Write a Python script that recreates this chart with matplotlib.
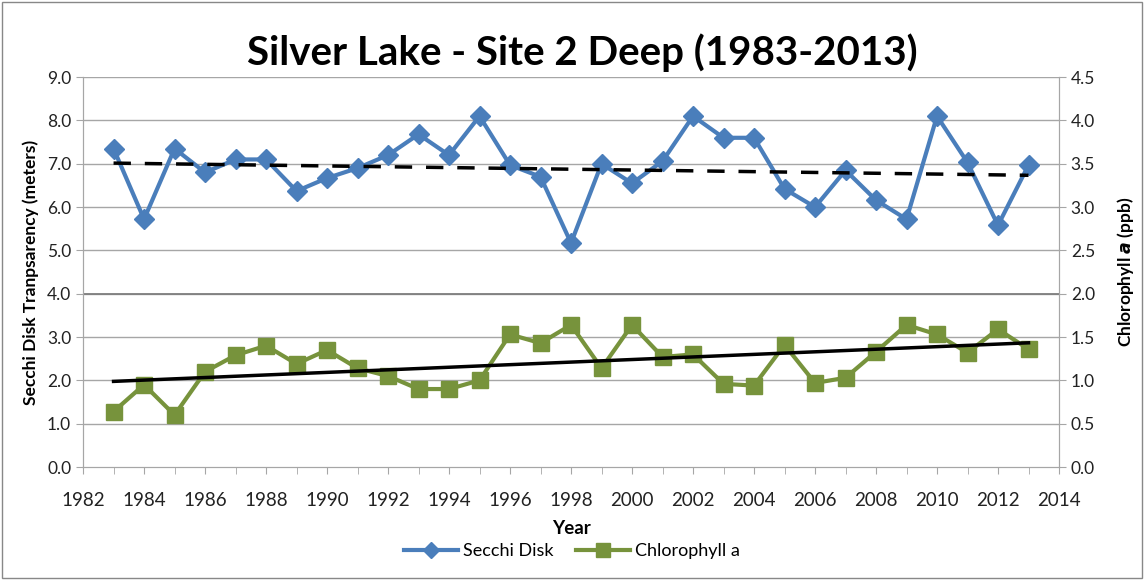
import numpy as np
import matplotlib
matplotlib.use('Agg')
import matplotlib.pyplot as plt
from matplotlib.patches import Rectangle

plt.rcParams['font.family'] = ['Lato', 'DejaVu Sans']

years = list(range(1983, 2014))
secchi = [7.35, 5.72, 7.35, 6.80, 7.10, 7.10, 6.37, 6.67, 6.90, 7.20,
          7.68, 7.20, 8.10, 6.97, 6.70, 5.17, 7.00, 6.55, 7.06, 8.10,
          7.60, 7.60, 6.42, 6.00, 6.85, 6.16, 5.72, 8.10, 7.03, 5.58, 6.97]
chla = [0.64, 0.95, 0.60, 1.10, 1.29, 1.40, 1.19, 1.35, 1.14, 1.05,
        0.90, 0.90, 1.00, 1.53, 1.43, 1.64, 1.14, 1.64, 1.27, 1.30,
        0.96, 0.94, 1.41, 0.97, 1.03, 1.33, 1.64, 1.53, 1.32, 1.59, 1.36]

blue = '#4A7EBB'
green = '#77933C'

fig = plt.figure(figsize=(11.44, 5.8), dpi=100)
fig.patches.append(Rectangle((0.002, 0.004), 0.996, 0.992, transform=fig.transFigure,
                             fill=False, edgecolor='#888888', lw=1))

ax = fig.add_axes([0.0726, 0.1948, 0.8531, 0.6722])
ax2 = ax.twinx()

# gridlines
for v in np.arange(1, 10, 1.0):
    ax.axhline(v, color='#A6A6A6', lw=1, zorder=0)
ax.axhline(4.0, color='#7F7F7F', lw=1.3, zorder=0)

ln1, = ax.plot(years, secchi, color=blue, lw=3, marker='D', ms=10,
               mfc=blue, mec=blue, label='Secchi Disk', zorder=3)
ln2, = ax2.plot(years, chla, color=green, lw=3, marker='s', ms=12,
                mfc=green, mec=green, label='Chlorophyll a', zorder=3)

# linear trend lines
yr = np.array(years)
p1 = np.polyfit(yr, secchi, 1)
ax.plot(yr, np.polyval(p1, yr), color='black', lw=2.5, ls=(0, (5, 4)), zorder=4)
p2 = np.polyfit(yr, chla, 1)
ax2.plot(yr, np.polyval(p2, yr), color='black', lw=2.5, zorder=4)

ax.set_xlim(1982, 2014)
ax.set_ylim(0, 9)
ax2.set_ylim(0, 4.5)
ax.set_xticks(range(1982, 2015, 2))
ax.set_yticks(np.arange(0, 9.01, 1.0))
ax2.set_yticks(np.arange(0, 4.51, 0.5))
ax.yaxis.set_major_formatter(matplotlib.ticker.FormatStrFormatter('%.1f'))
ax2.yaxis.set_major_formatter(matplotlib.ticker.FormatStrFormatter('%.1f'))
ax.set_xticks(range(1983, 2014, 2), minor=True)

for a in (ax, ax2):
    for s in a.spines.values():
        s.set_color('#A6A6A6')
    a.spines['top'].set_visible(False)
    a.tick_params(colors='#A6A6A6', labelcolor='#222222', labelsize=12.5, length=5)
ax.tick_params(axis='x', which='minor', length=5, colors='#A6A6A6')
ax.tick_params(axis='x', pad=13, labelsize=13.5)

fig.text(0.509, 0.91, 'Silver Lake - Site 2 Deep (1983-2013)', fontsize=29,
         fontweight='bold', ha='center', va='center')
ax.set_xlabel('Year', fontsize=13.5, fontweight='bold', labelpad=8)
ax.set_ylabel('Secchi Disk Tranpsarency (meters)', fontsize=12.5, fontweight='bold', labelpad=6)
ax2.set_ylabel(r'Chlorophyll $\mathbfit{a}$ (ppb)', fontsize=12.5, fontweight='bold', labelpad=14)

fig.legend(handles=[ln1, ln2], loc='center', bbox_to_anchor=(0.5, 0.05), ncol=2,
           frameon=False, fontsize=13, handlelength=3, columnspacing=1.2,
           handletextpad=0.3, markerscale=0.8)

fig.savefig('out.png', dpi=100)
